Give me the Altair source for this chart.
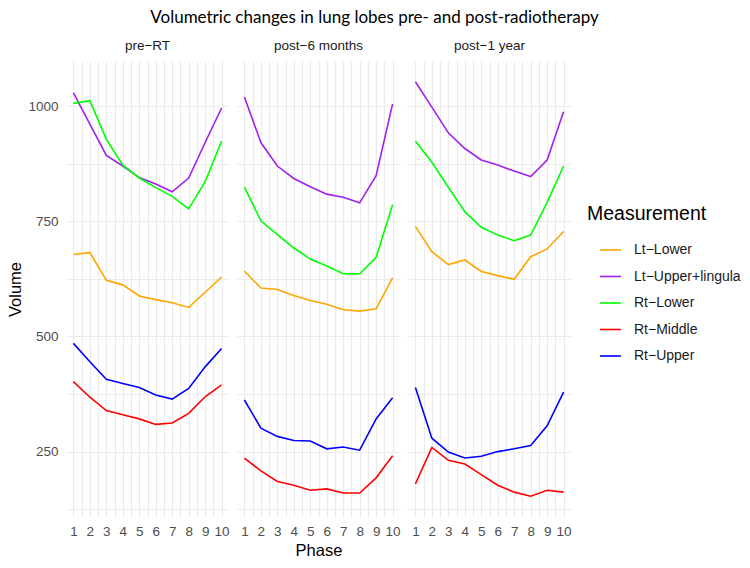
import altair as alt
import pandas as pd

phases = list(range(1, 11))
periods = ["pre−RT", "post−6 months", "post−1 year"]
lobes = ["Lt−Lower", "Lt−Upper+lingula", "Rt−Lower", "Rt−Middle", "Rt−Upper"]
colors = ["#FFA500", "#A020F0", "#00FF00", "#FF0000", "#0000FF"]

pre_lt_lower = [678, 682, 622, 612, 588, 580, 573, 563, 596, 629]
pre_lt_upper = [1029, 961, 893, 870, 845, 831, 814, 844, 921, 996]
pre_rt_lower = [1006, 1012, 928, 872, 844, 823, 804, 777, 836, 924]
pre_rt_middle = [402, 368, 339, 330, 321, 309, 312, 333, 369, 395]
pre_rt_upper = [485, 445, 407, 398, 389, 373, 364, 387, 434, 474]

post6_lt_lower = [642, 605, 602, 589, 578, 570, 558, 555, 560, 627]
post6_lt_upper = [1020, 921, 870, 843, 825, 809, 802, 790, 849, 1005]
post6_rt_lower = [824, 751, 721, 692, 668, 653, 636, 636, 672, 786]
post6_rt_middle = [236, 208, 185, 177, 166, 169, 160, 160, 193, 241]
post6_rt_upper = [362, 301, 283, 274, 273, 256, 260, 253, 321, 367]

post1y_lt_lower = [739, 684, 656, 666, 641, 632, 624, 673, 690, 728]
post1y_lt_upper = [1053, 998, 942, 908, 883, 872, 859, 847, 883, 988]
post1y_rt_lower = [924, 878, 824, 771, 737, 720, 708, 720, 791, 870]
post1y_rt_middle = [180, 259, 231, 223, 200, 177, 162, 153, 166, 162]
post1y_rt_upper = [389, 279, 249, 236, 240, 250, 256, 263, 306, 379]

series = {
    "pre−RT": [pre_lt_lower, pre_lt_upper, pre_rt_lower, pre_rt_middle, pre_rt_upper],
    "post−6 months": [post6_lt_lower, post6_lt_upper, post6_rt_lower, post6_rt_middle, post6_rt_upper],
    "post−1 year": [post1y_lt_lower, post1y_lt_upper, post1y_rt_lower, post1y_rt_middle, post1y_rt_upper],
}

rows = []
for period in periods:
    for lobe, vals in zip(lobes, series[period]):
        for p, v in zip(phases, vals):
            rows.append({"Period": period, "Measurement": lobe, "Phase": p, "Volume": v})
df = pd.DataFrame(rows)

x_vals = [i / 2 for i in range(2, 21)]
y_vals = [125 * i for i in range(1, 9)]

base = alt.Chart(df).mark_line(strokeWidth=1.6).encode(
    x=alt.X("Phase:Q",
            scale=alt.Scale(domain=[0.55, 10.45], nice=False, zero=False),
            axis=alt.Axis(values=x_vals,
                          labelExpr="datum.value % 1 == 0 ? toString(datum.value) : ''",
                          labelOverlap=False, labelFlush=False, title=None)),
    y=alt.Y("Volume:Q",
            scale=alt.Scale(domain=[108, 1098], nice=False, zero=False),
            axis=alt.Axis(values=y_vals,
                          labelExpr="datum.value % 250 == 0 ? toString(datum.value) : ''",
                          labelOverlap=False, title="Volume")),
    color=alt.Color("Measurement:N",
                    scale=alt.Scale(domain=lobes, range=colors),
                    legend=alt.Legend(title="Measurement")),
).properties(width=163, height=456)

chart = base.facet(
    column=alt.Column("Period:N", sort=periods, title="Phase",
                      header=alt.Header(labelFontSize=13.5, labelColor="#1A1A1A",
                                        labelFont="Liberation Sans", labelPadding=9,
                                        labelOrient="top", titleOrient="bottom",
                                        titleFont="Liberation Sans", titleFontSize=16.5,
                                        titleFontWeight="normal", titleColor="#000000",
                                        titlePadding=-5)),
    spacing=8,
).properties(
    title=alt.Title("Volumetric changes in lung lobes pre- and post-radiotherapy",
                    font="Lato", fontSize=17, fontWeight="normal", color="#000000",
                    anchor="middle", offset=12),
    padding={"left": 7, "top": 8, "right": 5, "bottom": 5},
).configure_view(
    stroke=None
).configure_axis(
    grid=True, gridColor="#EBEBEB", gridWidth=1.1,
    domain=False, ticks=False,
    labelFont="Liberation Sans", labelFontSize=13.5, labelColor="#4D4D4D",
    titleFont="Liberation Sans", titleFontSize=16.5, titleColor="#000000",
    titleFontWeight="normal",
).configure_axisX(
    labelPadding=7
).configure_axisY(
    labelPadding=8, titlePadding=4
).configure_legend(
    orient="none", legendX=521, legendY=144,
    titleFont="Liberation Sans", titleFontSize=19.5, titleFontWeight="normal",
    titleColor="#000000", titlePadding=14,
    labelFont="Liberation Sans", labelFontSize=14, labelColor="#1A1A1A",
    symbolType="stroke", symbolSize=440, symbolStrokeWidth=1.6,
    symbolOffset=12, rowPadding=7.5, labelOffset=12,
)

chart.save("out.html", embed_options={"renderer": "svg", "actions": False})
